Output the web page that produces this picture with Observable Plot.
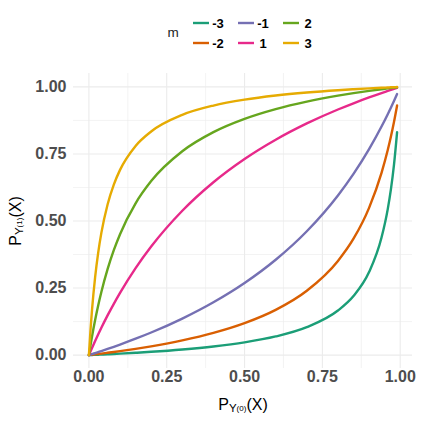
<!DOCTYPE html>
<html><head><meta charset="utf-8">
<script src="https://cdn.jsdelivr.net/npm/d3@7"></script>
<script src="https://cdn.jsdelivr.net/npm/@observablehq/plot@0.6"></script>
<style>body{margin:0;background:#fff} #chart{width:423px;height:423px}</style>
</head><body><div id="chart"></div><script>
// P_Y(0)(X) values (x axis)
const px = [0, 0.005, 0.01, 0.02, 0.03, 0.04, 0.06, 0.08, 0.1, 0.15, 0.2, 0.3, 0.4, 0.5, 0.6, 0.7, 0.8, 0.85, 0.9, 0.94, 0.96, 0.97, 0.98, 0.99];
// P_Y(1)(X) values for each m
const mNeg3 = [0, .0002, .0005, .0010, .0015, .0021, .0032, .0043, .0055, .0087, .0123, .0209, .0321, .0474, .0695, .1041, .1661, .2201, .3094, .4382, .5444, .6168, .7093, .8314];
const mNeg2 = [0, .0007, .0014, .0028, .0042, .0056, .0086, .0116, .0148, .0233, .0327, .0548, .0828, .1192, .1687, .2400, .3512, .4340, .5491, .6795, .7645, .8140, .8690, .9305];
const mNeg1 = [0, .0018, .0037, .0075, .0113, .0151, .0229, .0310, .0393, .0610, .0842, .1362, .1970, .2689, .3556, .4619, .5954, .6758, .7680, .8522, .8983, .9224, .9475, .9733];
const mPos1 = [0, .0135, .0267, .0526, .0776, .1017, .1479, .1912, .2320, .3242, .4046, .5381, .6444, .7311, .8030, .8638, .9158, .9390, .9607, .9771, .9849, .9888, .9925, .9963];
const mPos2 = [0, .0358, .0695, .1310, .1860, .2354, .3205, .3912, .4509, .5660, .6488, .7600, .8313, .8808, .9172, .9452, .9673, .9767, .9852, .9914, .9944, .9958, .9972, .9986];
const mPos3 = [0, .0917, .1687, .2907, .3832, .4556, .5618, .6359, .6906, .7800, .8339, .8959, .9305, .9526, .9679, .9791, .9877, .9913, .9945, .9968, .9979, .9985, .9990, .9995];
const mLabels = ["-3", "-2", "-1", "1", "2", "3"];
const colors = ["#1B9E77", "#D95F02", "#7570B3", "#E7298A", "#66A61E", "#E6AB02"];
const ticks = [0, 0.25, 0.5, 0.75, 1];
const minorTicks = [0.125, 0.375, 0.625, 0.875];

const seriesList = [mNeg3, mNeg2, mNeg1, mPos1, mPos2, mPos3];
const data = [];
seriesList.forEach((ys, i) => ys.forEach((y, j) => data.push({m: mLabels[i], x: px[j], y})));

const font = "'Liberation Sans', Arial, sans-serif";
const plot = Plot.plot({
  width: 423, height: 423,
  marginLeft: 73, marginRight: 11, marginTop: 73, marginBottom: 55,
  style: {fontFamily: font, background: "#fff"},
  x: {domain: [-0.0495, 1.0395]},
  y: {domain: [-0.05, 1.05]},
  color: {domain: mLabels, range: colors},
  marks: [
    Plot.ruleX(minorTicks, {stroke: "#ebebeb", strokeWidth: 0.6}),
    Plot.ruleY(minorTicks, {stroke: "#ebebeb", strokeWidth: 0.6}),
    Plot.ruleX(ticks, {stroke: "#ebebeb", strokeWidth: 1.1}),
    Plot.ruleY(ticks, {stroke: "#ebebeb", strokeWidth: 1.1}),
    Plot.line(data, {x: "x", y: "y", stroke: "m", curve: "monotone-x", strokeWidth: 2.4}),
    Plot.axisX({ticks, tickSize: 0, tickPadding: 2, tickFormat: d3.format(".2f"), label: null, fontSize: 16, fontWeight: "bold", fill: "#4d4d4d"}),
    Plot.axisY({ticks, tickSize: 0, tickPadding: 7, tickFormat: d3.format(".2f"), label: null, fontSize: 16, fontWeight: "bold", fill: "#4d4d4d"})
  ]
});
document.getElementById("chart").appendChild(plot);

const svg = d3.select(plot);
// axis titles
function title(g, sub) {
  g.append("tspan").attr("font-size", 16).text("P");
  g.append("tspan").attr("font-size", 11.5).attr("dy", 2).text("Y");
  g.append("tspan").attr("font-size", 8).attr("dy", -1.5).text(sub);
  g.append("tspan").attr("font-size", 16).attr("dy", -0.5).text("(X)");
}
const xt = svg.append("text").attr("x", 243).attr("y", 410).attr("text-anchor", "middle")
  .attr("font-family", font).attr("fill", "#000");
title(xt, "(0)");
const yt = svg.append("text").attr("transform", "translate(21,221) rotate(-90)").attr("text-anchor", "middle")
  .attr("font-family", font).attr("fill", "#000");
title(yt, "(1)");

// legend
const lg = svg.append("g").attr("font-family", font);
lg.append("text").attr("x", 173).attr("y", 37).attr("font-size", 13.5).attr("fill", "#222").text("m");
const colX = [193, 238, 283], rowY = [23, 43];
mLabels.forEach((lab, i) => {
  const c = Math.floor(i / 2), r = i % 2;
  lg.append("line").attr("x1", colX[c]).attr("x2", colX[c] + 16).attr("y1", rowY[r]).attr("y2", rowY[r])
    .attr("stroke", colors[i]).attr("stroke-width", 2.4);
  lg.append("text").attr("x", colX[c] + 25).attr("y", rowY[r] + 5).attr("font-size", 13)
    .attr("font-weight", "bold").attr("fill", "#000").text(lab);
});
</script></body></html>
